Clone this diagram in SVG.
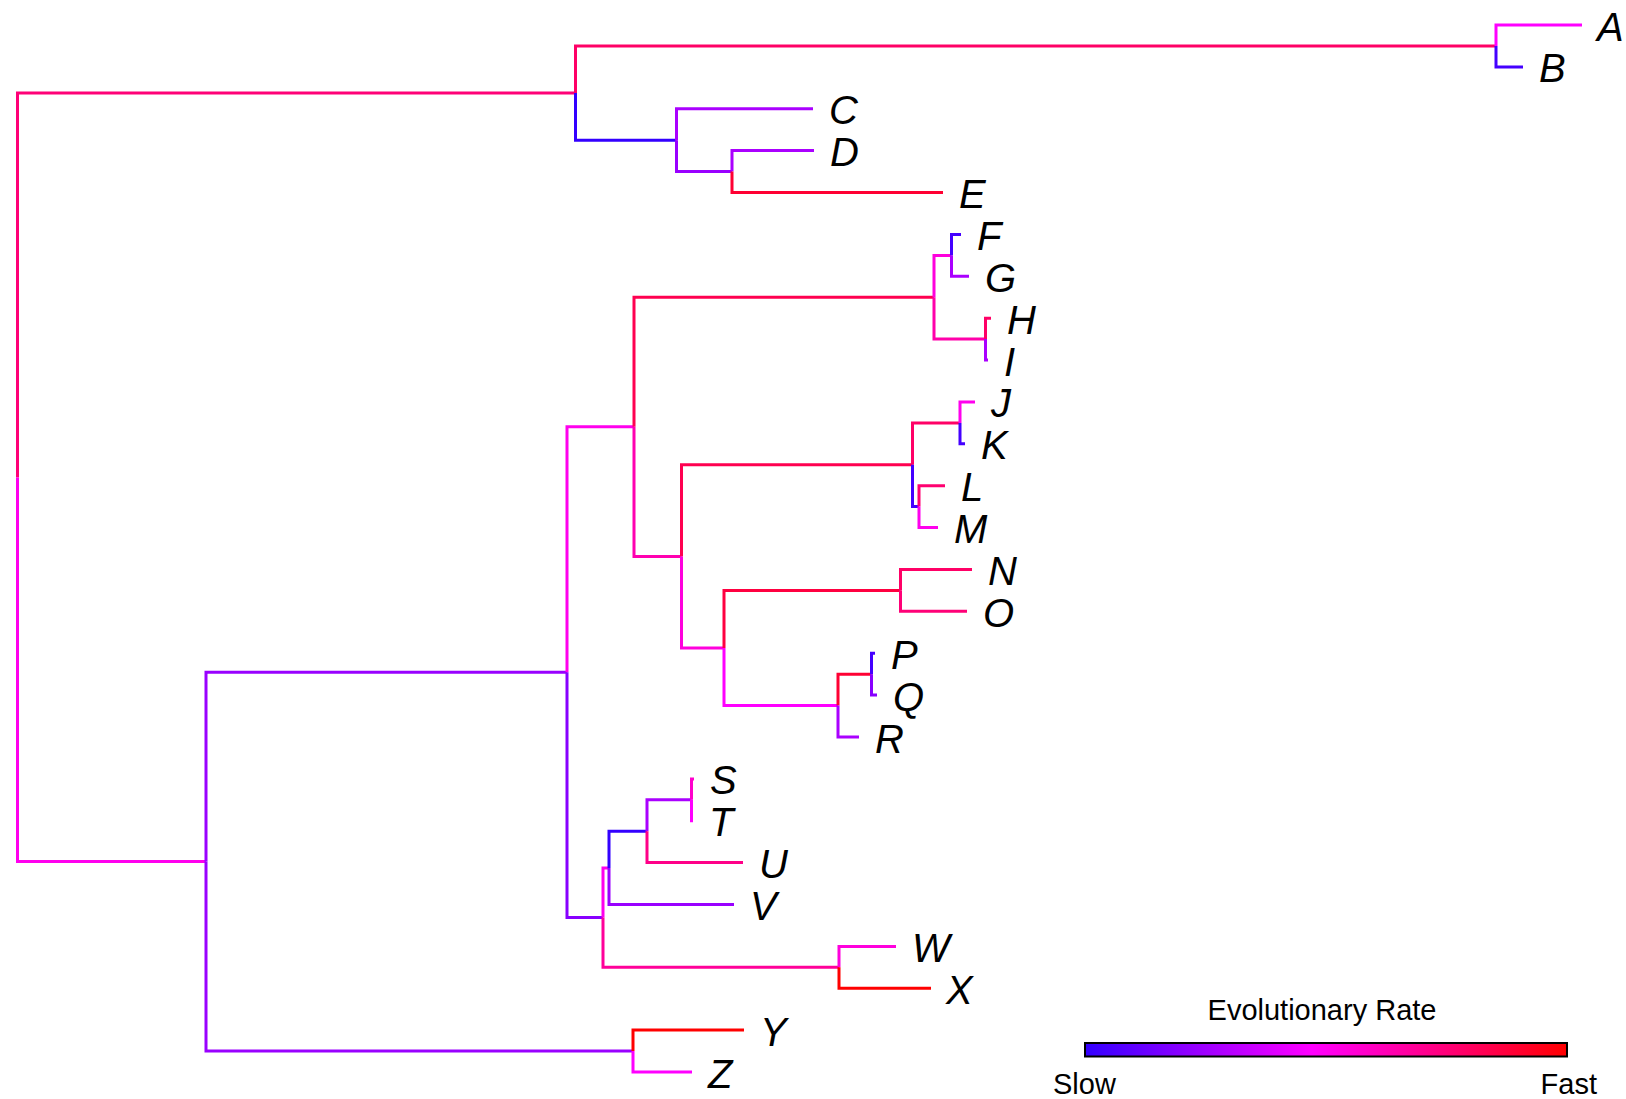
<svg xmlns="http://www.w3.org/2000/svg" width="1626" height="1099" viewBox="0 0 1626 1099">
<defs>
<linearGradient id="rate" x1="0" y1="0" x2="1" y2="0">
<stop offset="0" stop-color="#3300ff"/>
<stop offset="0.47" stop-color="#ff00ff"/>
<stop offset="1" stop-color="#ff0000"/>
</linearGradient>
<style>
.br{fill:none;stroke-width:3;stroke-linejoin:miter;stroke-linecap:butt}
.lbl{font-family:"Liberation Sans",Arial,sans-serif;font-style:italic;font-size:40px;fill:#000}
.leg{font-family:"Liberation Sans",Arial,sans-serif;font-size:29px;fill:#000}
.b1{stroke:#3300ff}.b2{stroke:#4400ff}.p1{stroke:#8800ff}.p2{stroke:#9900ff}.p3{stroke:#aa00ff}
.m1{stroke:#ff00ff}.m2{stroke:#ff00ee}.m3{stroke:#ff00dd}.m4{stroke:#ff00cc}.m5{stroke:#ff00b0}.m6{stroke:#ff00aa}
.k1{stroke:#ff0099}.k2{stroke:#ff0088}.k3{stroke:#ff0077}.k4{stroke:#ff0070}.k5{stroke:#ff0066}
.r1{stroke:#ff0050}.r2{stroke:#ff0040}.r3{stroke:#ff0033}.r4{stroke:#ff0000}
</style>
</defs>
<rect width="1626" height="1099" fill="#ffffff"/>
<g id="connectors">
<path class="br k3" d="M17.5,477.4 V93.1 H575.5"/>
<path class="br m2" d="M17.5,477.4 V861.6 H206"/>
<path class="br k5" d="M575.5,93.1 V46 H1496"/>
<path class="br b1" d="M575.5,93.1 V140.2 H676.5"/>
<path class="br m1" d="M1496,46 V25 H1582"/>
<path class="br b2" d="M1496,46 V66.9 H1523"/>
<path class="br p3" d="M676.5,140.2 V108.8 H813"/>
<path class="br p2" d="M676.5,140.2 V171.5 H732"/>
<path class="br p3" d="M732,171.5 V150.6 H814"/>
<path class="br r3" d="M732,171.5 V192.5 H943"/>
<path class="br p2" d="M206,861.6 V672.2 H567"/>
<path class="br p2" d="M206,861.6 V1051.1 H633"/>
<path class="br m2" d="M567,672.2 V426.8 H634"/>
<path class="br p1" d="M567,672.2 V917.6 H603"/>
<path class="br r1" d="M634,426.8 V297.2 H934"/>
<path class="br m5" d="M634,426.8 V556.4 H681.5"/>
<path class="br m3" d="M934,297.2 V255.4 H951.5"/>
<path class="br m6" d="M934,297.2 V339.1 H985.5"/>
<path class="br b2" d="M951.5,255.4 V234.4 H961"/>
<path class="br p3" d="M951.5,255.4 V276.3 H969"/>
<path class="br k5" d="M985.5,339.1 V318.2 H991"/>
<path class="br p3" d="M985.5,339.1 V360 H988"/>
<path class="br r1" d="M681.5,556.4 V464.8 H912.5"/>
<path class="br m3" d="M681.5,556.4 V648 H724"/>
<path class="br k5" d="M912.5,464.8 V422.9 H960"/>
<path class="br b2" d="M912.5,464.8 V506.6 H919"/>
<path class="br m2" d="M960,422.9 V401.9 H975"/>
<path class="br b2" d="M960,422.9 V443.8 H965"/>
<path class="br k4" d="M919,506.6 V485.7 H945"/>
<path class="br m2" d="M919,506.6 V527.6 H938"/>
<path class="br r2" d="M724,648 V590.4 H900.5"/>
<path class="br m1" d="M724,648 V705.6 H838"/>
<path class="br k5" d="M900.5,590.4 V569.4 H972"/>
<path class="br k3" d="M900.5,590.4 V611.3 H967"/>
<path class="br r3" d="M838,705.6 V674.2 H871.5"/>
<path class="br p3" d="M838,705.6 V737 H859"/>
<path class="br b2" d="M871.5,674.2 V653.2 H875"/>
<path class="br p1" d="M871.5,674.2 V695.1 H877"/>
<path class="br m2" d="M603,917.6 V867.9 H609"/>
<path class="br k1" d="M603,917.6 V967.3 H839"/>
<path class="br b1" d="M609,867.9 V831.2 H647"/>
<path class="br p2" d="M609,867.9 V904.5 H734"/>
<path class="br p3" d="M647,831.2 V799.8 H691.5"/>
<path class="br k2" d="M647,831.2 V862.6 H743"/>
<path class="br m4" d="M691.5,799.8 V778.9 H694"/>
<path class="br m1" d="M691.5,799.8 V820.7 H693"/>
<path class="br m3" d="M839,967.3 V946.4 H896"/>
<path class="br r4" d="M839,967.3 V988.2 H931"/>
<path class="br r4" d="M633,1051.1 V1030.1 H744"/>
<path class="br m1" d="M633,1051.1 V1072 H692"/>
</g>
<g id="node-A"><text class="lbl" x="1597" y="40.5">A</text></g>
<g id="node-B"><text class="lbl" x="1539" y="82.4">B</text></g>
<g id="node-C"><text class="lbl" x="829" y="124.3">C</text></g>
<g id="node-D"><text class="lbl" x="830" y="166.1">D</text></g>
<g id="node-E"><text class="lbl" x="959" y="208">E</text></g>
<g id="node-F"><text class="lbl" x="977" y="249.9">F</text></g>
<g id="node-G"><text class="lbl" x="985" y="291.8">G</text></g>
<g id="node-H"><text class="lbl" x="1007" y="333.7">H</text></g>
<g id="node-I"><text class="lbl" x="1004" y="375.5">I</text></g>
<g id="node-J"><text class="lbl" x="991" y="417.4">J</text></g>
<g id="node-K"><text class="lbl" x="981" y="459.3">K</text></g>
<g id="node-L"><text class="lbl" x="961" y="501.2">L</text></g>
<g id="node-M"><text class="lbl" x="954" y="543.1">M</text></g>
<g id="node-N"><text class="lbl" x="988" y="584.9">N</text></g>
<g id="node-O"><text class="lbl" x="983" y="626.8">O</text></g>
<g id="node-P"><text class="lbl" x="891" y="668.7">P</text></g>
<g id="node-Q"><text class="lbl" x="893" y="710.6">Q</text></g>
<g id="node-R"><text class="lbl" x="875" y="752.5">R</text></g>
<g id="node-S"><text class="lbl" x="710" y="794.4">S</text></g>
<g id="node-T"><text class="lbl" x="709" y="836.2">T</text></g>
<g id="node-U"><text class="lbl" x="759" y="878.1">U</text></g>
<g id="node-V"><text class="lbl" x="750" y="920">V</text></g>
<g id="node-W"><text class="lbl" x="912" y="961.9">W</text></g>
<g id="node-X"><text class="lbl" x="946" y="1003.7">X</text></g>
<g id="node-Y"><text class="lbl" x="760" y="1045.6">Y</text></g>
<g id="node-Z"><text class="lbl" x="708" y="1087.5">Z</text></g>
<g id="legend">
<text class="leg" x="1322" y="1020" text-anchor="middle">Evolutionary Rate</text>
<rect x="1085" y="1043" width="482" height="13.5" fill="url(#rate)" stroke="#000" stroke-width="2"/>
<text class="leg" x="1053" y="1094">Slow</text>
<text class="leg" x="1597" y="1094" text-anchor="end">Fast</text>
</g>
</svg>
